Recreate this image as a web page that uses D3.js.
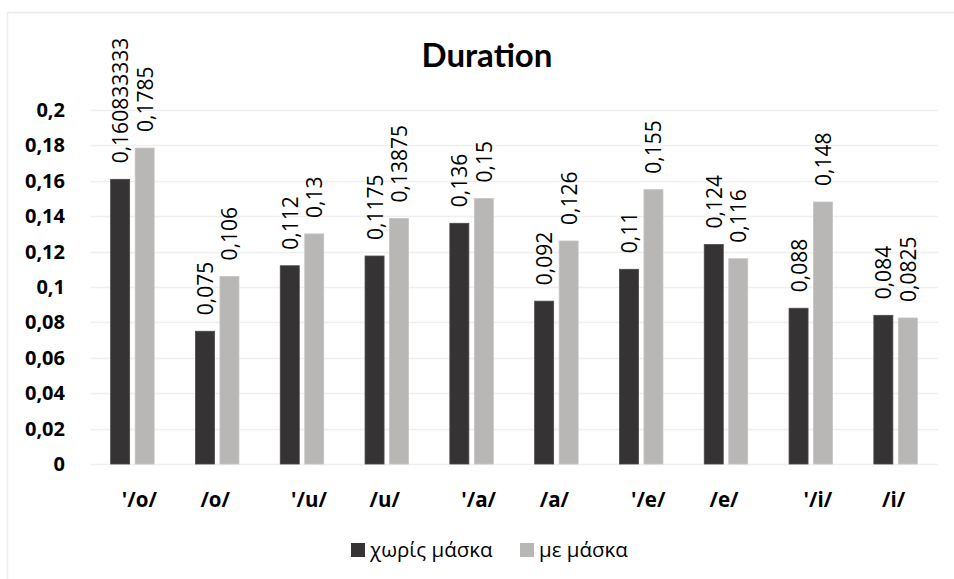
<!DOCTYPE html>
<html>
<head>
<meta charset="utf-8">
<script src="https://cdn.jsdelivr.net/npm/d3@7/dist/d3.min.js"></script>
<style>
  html, body { margin: 0; padding: 0; background: #ffffff; }
  svg { display: block; font-family: "Open Sans", Lato, "Noto Sans", sans-serif; }
</style>
</head>
<body>
<svg id="chart" width="954" height="579"></svg>
<script>
// Vowel categories (stressed marked with ')
const categories = ["'/o/", "/o/", "'/u/", "/u/", "'/a/", "/a/", "'/e/", "/e/", "'/i/", "/i/"];
// Mean duration without mask
const noMask = [0.160833333, 0.075, 0.112, 0.1175, 0.136, 0.092, 0.11, 0.124, 0.088, 0.084];
// Mean duration with mask
const withMask = [0.1785, 0.106, 0.13, 0.13875, 0.15, 0.126, 0.155, 0.116, 0.148, 0.0825];
const seriesNames = ["χωρίς μάσκα", "με μάσκα"];
const seriesColors = ["#353334", "#b8b7b6"];
const yTicks = [0, 0.02, 0.04, 0.06, 0.08, 0.1, 0.12, 0.14, 0.16, 0.18, 0.2];
const yTickLabels = ["0", "0,02", "0,04", "0,06", "0,08", "0,1", "0,12", "0,14", "0,16", "0,18", "0,2"];

const svg = d3.select("#chart");
const W = 954, H = 579;
const plot = { left: 90, right: 938, top: 110, bottom: 464 };

// chart frame
svg.append("rect")
  .attr("x", 7.5).attr("y", 12.5)
  .attr("width", W + 10).attr("height", H + 10)
  .attr("fill", "#ffffff").attr("stroke", "#ececec").attr("stroke-width", 1.5);

const y = d3.scaleLinear().domain([0, 0.2]).range([plot.bottom, plot.top]);

const x0 = d3.scaleBand().domain(categories)
  .range([plot.left, plot.right])
  .paddingInner(0.487).paddingOuter(0.2435);
const x1 = d3.scaleBand().domain(seriesNames)
  .range([0, x0.bandwidth()])
  .paddingInner(0.224);

// horizontal gridlines
svg.append("g").selectAll("line").data(yTicks).join("line")
  .attr("x1", plot.left).attr("x2", plot.right)
  .attr("y1", d => Math.round(y(d)) + 0.5).attr("y2", d => Math.round(y(d)) + 0.5)
  .attr("stroke", "#efefef").attr("stroke-width", 1.5);

// y axis labels
const yAxis = d3.axisLeft(y).tickValues(yTicks)
  .tickFormat((d, i) => yTickLabels[i]).tickSize(0).tickPadding(0);
const gy = svg.append("g").attr("transform", "translate(65,0)").call(yAxis);
gy.select(".domain").remove();
gy.selectAll("text")
  .attr("font-family", "'Open Sans', Lato, sans-serif")
  .attr("font-size", 20).attr("font-weight", "bold").attr("fill", "#000");

// x axis labels
const xAxis = d3.axisBottom(x0).tickSize(0).tickPadding(0);
const gx = svg.append("g").attr("transform", `translate(0,${plot.bottom})`).call(xAxis);
gx.select(".domain").remove();
gx.selectAll("text")
  .attr("font-family", "'Open Sans', Lato, sans-serif")
  .attr("font-size", 20.5).attr("font-weight", "bold").attr("fill", "#000")
  .attr("dy", "0").attr("y", 43)
  .attr("dx", d => d.startsWith("'") ? 7 : -2);

// bars
const rows = categories.map((c, i) => ({ cat: c, vals: [noMask[i], withMask[i]] }));
const groups = svg.append("g").selectAll("g").data(rows).join("g")
  .attr("transform", d => `translate(${x0(d.cat)},0)`);

groups.selectAll("rect")
  .data(d => d.vals.map((v, k) => ({ v, k })))
  .join("rect")
  .attr("x", d => x1(seriesNames[d.k]))
  .attr("width", x1.bandwidth())
  .attr("y", d => y(d.v))
  .attr("height", d => y(0) - y(d.v))
  .attr("fill", d => seriesColors[d.k])
  .attr("stroke", d => d.k === 0 ? "#4a4849" : "#c6c5c4")
  .attr("stroke-width", 0.8);

// rotated value labels
groups.selectAll("text")
  .data(d => d.vals.map((v, k) => ({ v, k })))
  .join("text")
  .attr("transform", d => `translate(${x1(seriesNames[d.k]) + x1.bandwidth() / 2},${y(d.v) - 16}) rotate(-90)`)
  .attr("text-anchor", "start")
  .attr("dominant-baseline", "central")
  .attr("font-size", 21)
  .attr("fill", "#000")
  .text(d => String(d.v).replace(".", ","));

// title
svg.append("text")
  .attr("x", 487).attr("y", 67)
  .attr("text-anchor", "middle")
  .attr("font-family", "Lato, 'Open Sans', sans-serif")
  .attr("font-size", 33).attr("font-weight", "bold").attr("fill", "#000")
  .text("Duration");

// legend
const legend = svg.append("g");
const legendX = [351, 520];
seriesNames.forEach((name, k) => {
  legend.append("rect")
    .attr("x", legendX[k]).attr("y", 543)
    .attr("width", 14).attr("height", 14)
    .attr("fill", seriesColors[k]);
  legend.append("text")
    .attr("x", legendX[k] + 19).attr("y", 556.5)
    .attr("font-size", 20.5).attr("fill", "#000")
    .text(name);
});
</script>
</body>
</html>
